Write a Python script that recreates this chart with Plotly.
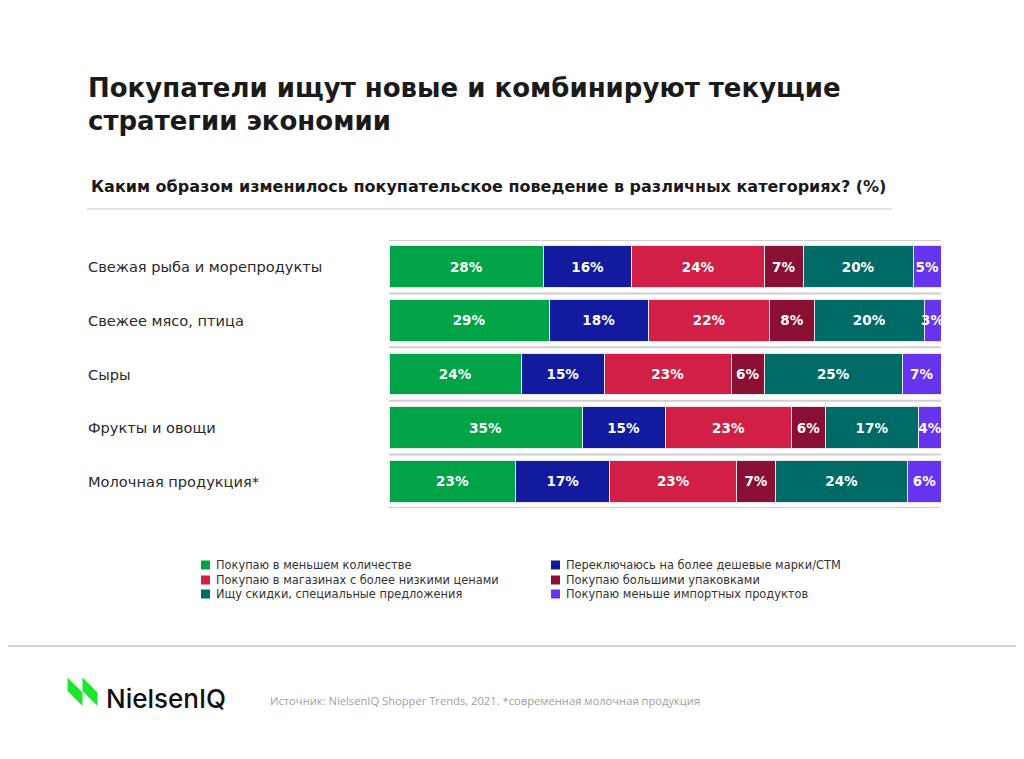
import plotly.graph_objects as go

categories = [
    "Свежая рыба и морепродукты",
    "Свежее мясо, птица",
    "Сыры",
    "Фрукты и овощи",
    "Молочная продукция*",
]
series_names = [
    "Покупаю в меньшем количестве",
    "Переключаюсь на более дешевые марки/СТМ",
    "Покупаю в магазинах с более низкими ценами",
    "Покупаю большими упаковками",
    "Ищу скидки, специальные предложения",
    "Покупаю меньше импортных продуктов",
]
less_qty = [28, 29, 24, 35, 23]
cheaper_brands = [16, 18, 15, 15, 17]
cheaper_stores = [24, 22, 23, 23, 23]
bigger_packs = [7, 8, 6, 6, 7]
discounts = [20, 20, 25, 17, 24]
less_imports = [5, 3, 7, 4, 6]
series_values = [less_qty, cheaper_brands, cheaper_stores, bigger_packs, discounts, less_imports]
colors = ["#00A346", "#121A9E", "#D21F45", "#8A1033", "#006B66", "#6633EE"]

title_lines = ["Покупатели ищут новые и комбинируют текущие", "стратегии экономии"]
subtitle = "Каким образом изменилось покупательское поведение в различных категориях? (%)"
source = "Источник: NielsenIQ Shopper Trends, 2021. *современная молочная продукция"

OFF = 8  # page body margin
W, H = 1024 - OFF, 759 - 2 * OFF
X0, X1, Y0, Y1 = 389, 941, 240, 508  # plot area in screen pixels


def px(x):
    return (x - X0) / (X1 - X0)


def py(y):
    return (Y1 - y) / (Y1 - Y0)


fig = go.Figure()
for name, vals, col in zip(series_names, series_values, colors):
    fig.add_trace(go.Bar(
        y=categories, x=vals, name=name, orientation="h",
        marker=dict(color=col, line=dict(color="#E6E6F0", width=1)),
        texttemplate="%{x}%", textposition="inside", insidetextanchor="middle",
        textangle=0, constraintext="none",
        textfont=dict(family="DejaVu Sans", size=13.5, color="white", weight="bold"),
        width=0.78, showlegend=False, hoverinfo="skip",
    ))

shapes = []
# page frame (right edge; top/left fall outside the drawable page)
shapes.append(dict(type="line", xref="paper", yref="paper", x0=px(1022), x1=px(1022), y0=py(8), y1=py(751),
                   line=dict(color="#B4B4B4", width=2), layer="below"))
# footer separator
shapes.append(dict(type="line", xref="paper", yref="paper", x0=px(8), x1=px(1022), y0=py(646), y1=py(646),
                   line=dict(color="#C4C4C4", width=1.5)))
# subtitle underline
shapes.append(dict(type="line", xref="paper", yref="paper", x0=px(87), x1=px(892), y0=py(209), y1=py(209),
                   line=dict(color="#C8C8C8", width=1.2)))
# row separators
for i in range(len(categories) + 1):
    shapes.append(dict(type="line", xref="x", yref="y", x0=0, x1=100, y0=i - 0.5, y1=i - 0.5,
                       line=dict(color="#CFCFCF", width=2), layer="below"))


def path(points):
    return "M " + " L ".join(f"{px(a):.5f},{py(b):.5f}" for a, b in points) + " Z"


for lx in (67.5, 82.5):
    pts = [(lx, 677.5), (lx, 691), (lx + 15, 706), (lx + 15, 692.5)]
    shapes.append(dict(type="path", xref="paper", yref="paper", path=path(pts),
                       fillcolor="#1EE62C", line=dict(width=0)))

annotations = []
for line, yy in zip(title_lines, (88, 121)):
    annotations.append(dict(text=line, x=px(86), y=py(yy), xref="paper", yref="paper",
                            xanchor="left", yanchor="middle", showarrow=False,
                            font=dict(family="DejaVu Sans", size=26, color="#1A1A1A", weight="bold")))
annotations.append(dict(text=subtitle, x=px(89), y=py(186), xref="paper", yref="paper",
                        xanchor="left", yanchor="middle", showarrow=False,
                        font=dict(family="DejaVu Sans", size=16, color="#1A1A1A", weight="bold")))
for c in categories:
    annotations.append(dict(text=c, x=px(86), y=c, xref="paper", yref="y",
                            xanchor="left", yanchor="middle", showarrow=False,
                            font=dict(family="DejaVu Sans", size=14.6, color="#2A2A2A")))

# legend (two columns, row-major order)
leg_cols = [201, 551]
leg_rows = [565, 580, 594]
for k, (name, col) in enumerate(zip(series_names, colors)):
    cx = leg_cols[k % 2]
    cy = leg_rows[k // 2]
    shapes.append(dict(type="rect", xref="paper", yref="paper",
                       x0=px(cx), x1=px(cx + 9), y0=py(cy - 4.5), y1=py(cy + 4.5),
                       fillcolor=col, line=dict(width=0)))
    annotations.append(dict(text=name, x=px(cx + 13), y=py(cy), xref="paper", yref="paper",
                            xanchor="left", yanchor="middle", showarrow=False,
                            font=dict(family="DejaVu Sans", size=11.4, color="#333333")))

annotations.append(dict(text="NielsenIQ", x=px(104), y=py(698), xref="paper", yref="paper",
                        xanchor="left", yanchor="middle", showarrow=False,
                        font=dict(family="Inter", size=26, color="#111111", weight=500)))
annotations.append(dict(text=source, x=px(268), y=py(700), xref="paper", yref="paper",
                        xanchor="left", yanchor="middle", showarrow=False,
                        font=dict(family="Open Sans", size=11.2, color="#A0A0A0")))

fig.update_layout(
    width=W, height=H, barmode="stack",
    margin=dict(l=X0 - OFF, r=W - (X1 - OFF), t=Y0 - OFF, b=H - (Y1 - OFF), pad=0),
    paper_bgcolor="white", plot_bgcolor="white",
    xaxis=dict(range=[0, 100], visible=False, fixedrange=True),
    yaxis=dict(categoryorder="array", categoryarray=categories, range=[4.5, -0.5],
               visible=False, fixedrange=True),
    shapes=shapes, annotations=annotations,
)

fig.write_html("out.html", config={"displayModeBar": False})
